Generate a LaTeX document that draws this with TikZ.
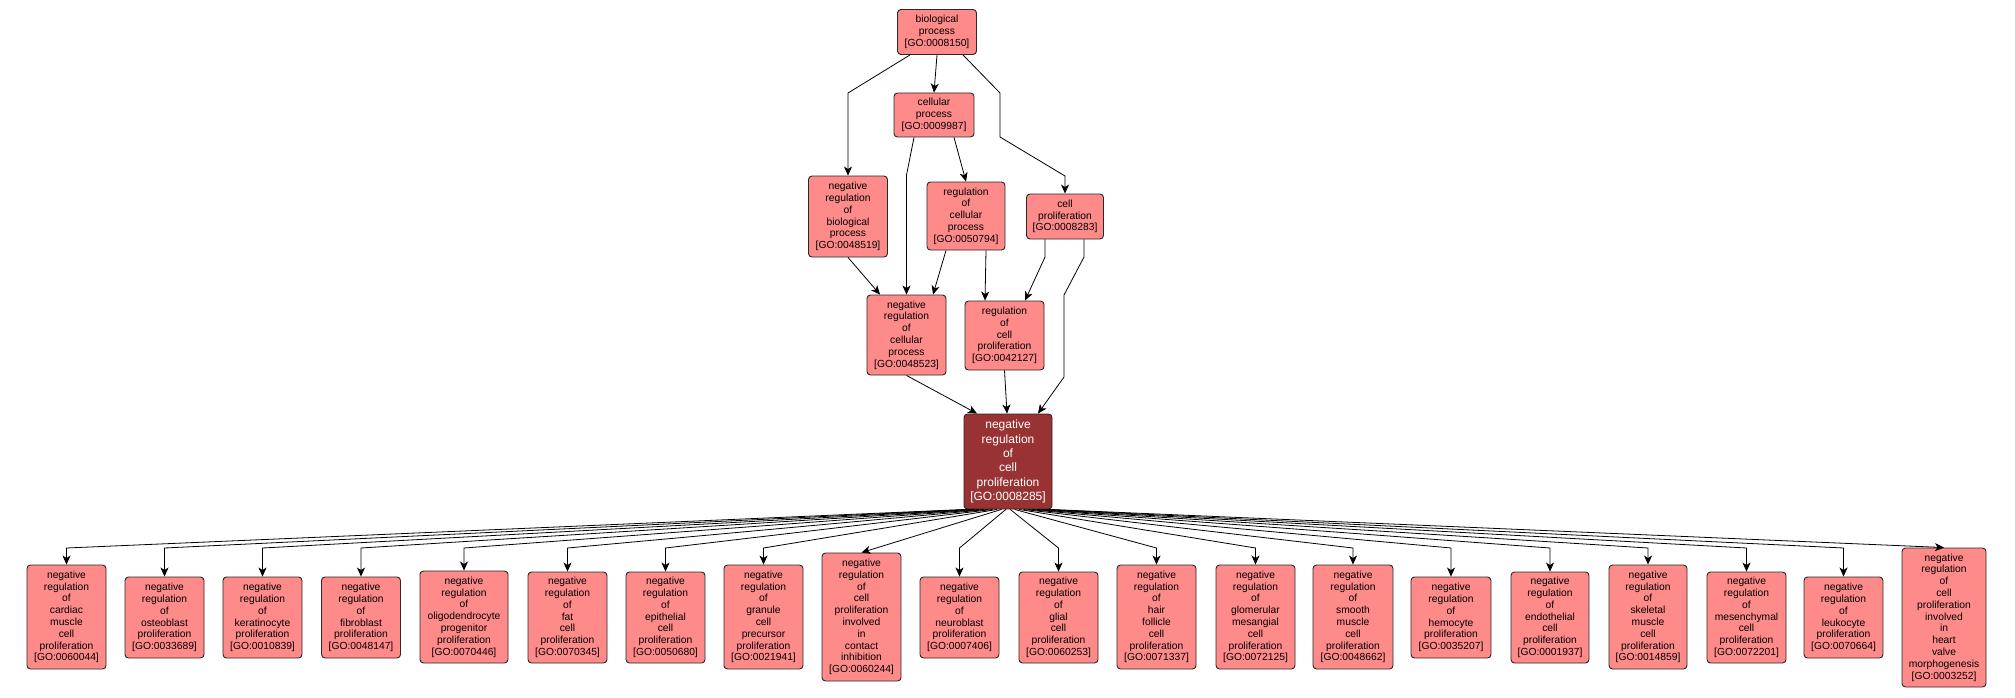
\documentclass[tikz,border=0pt]{standalone}
\usepackage{fontspec}
\newfontfamily\gofont{Liberation Sans}
\usetikzlibrary{arrows.meta,calc}
\definecolor{gopink}{RGB}{255,138,138}
\definecolor{godark}{RGB}{153,51,51}
\definecolor{goline}{RGB}{40,40,40}
\begin{document}
\begin{tikzpicture}[x=1pt,y=-1pt,
  gobox/.style={draw=goline, fill=gopink, line width=0.9pt, rounded corners=3.5pt,
    align=center, inner sep=0pt, minimum width=79pt,
    font={\gofont\fontsize{10.3}{11.8}\selectfont}},
  gomain/.style={gobox, fill=godark, text=white, minimum width=88pt, minimum height=95pt,
    font={\gofont\fontsize{12}{14.3}\selectfont}},
  edge/.style={draw=black, line width=0.8pt, -{Stealth[length=9pt,width=8pt,inset=2.5pt]}}]
\useasboundingbox (0,0) rectangle (2015,698);
\fill[white] (0,0) rectangle (2015,698);
% top part
\node[gobox, minimum height=45pt] (bio) at (937,32) {biological\\process\\{[GO:0008150]}};
\node[gobox, minimum width=80pt, minimum height=44pt] (cellular) at (934,115) {cellular\\process\\{[GO:0009987]}};
\node[gobox, minimum height=81pt] (negregbio) at (848,216.5) {negative\\regulation\\of\\biological\\process\\{[GO:0048519]}};
\node[gobox, minimum width=78pt, minimum height=68pt] (regcell) at (966,216) {regulation\\of\\cellular\\process\\{[GO:0050794]}};
\node[gobox, minimum width=77pt, minimum height=45pt] (cellprolif) at (1065,216.5) {cell\\proliferation\\{[GO:0008283]}};
\node[gobox, minimum height=80pt] (negregcell) at (906.5,335) {negative\\regulation\\of\\cellular\\process\\{[GO:0048523]}};
\node[gobox, minimum height=69pt] (regcellprolif) at (1004.5,335.5) {regulation\\of\\cell\\proliferation\\{[GO:0042127]}};
\node[gomain] (main) at (1008,461.5) {negative\\regulation\\of\\cell\\proliferation\\{[GO:0008285]}};
% bottom row
\node[gobox, minimum height=104pt] (cardiac) at (66.5,617) {negative\\regulation\\of\\cardiac\\muscle\\cell\\proliferation\\{[GO:0060044]}};
\node[gobox, minimum height=81pt] (osteo) at (164.5,617.5) {negative\\regulation\\of\\osteoblast\\proliferation\\{[GO:0033689]}};
\node[gobox, minimum height=81pt] (kerat) at (262.5,617.5) {negative\\regulation\\of\\keratinocyte\\proliferation\\{[GO:0010839]}};
\node[gobox, minimum height=81pt] (fibro) at (361,617.5) {negative\\regulation\\of\\fibroblast\\proliferation\\{[GO:0048147]}};
\node[gobox, minimum width=88pt, minimum height=92pt] (oligo) at (464,617) {negative\\regulation\\of\\oligodendrocyte\\progenitor\\proliferation\\{[GO:0070446]}};
\node[gobox, minimum height=91pt] (fat) at (567.5,617.5) {negative\\regulation\\of\\fat\\cell\\proliferation\\{[GO:0070345]}};
\node[gobox, minimum height=91pt] (epith) at (665.5,617.5) {negative\\regulation\\of\\epithelial\\cell\\proliferation\\{[GO:0050680]}};
\node[gobox, minimum height=104pt] (granule) at (763.5,617) {negative\\regulation\\of\\granule\\cell\\precursor\\proliferation\\{[GO:0021941]}};
\node[gobox, minimum height=128pt] (contact) at (861.5,617) {negative\\regulation\\of\\cell\\proliferation\\involved\\in\\contact\\inhibition\\{[GO:0060244]}};
\node[gobox, minimum height=81pt] (neuro) at (959.5,617.5) {negative\\regulation\\of\\neuroblast\\proliferation\\{[GO:0007406]}};
\node[gobox, minimum height=91pt] (glial) at (1058.5,617.5) {negative\\regulation\\of\\glial\\cell\\proliferation\\{[GO:0060253]}};
\node[gobox, minimum height=104pt] (hair) at (1156.5,617) {negative\\regulation\\of\\hair\\follicle\\cell\\proliferation\\{[GO:0071337]}};
\node[gobox, minimum height=104pt] (glom) at (1255.5,617) {negative\\regulation\\of\\glomerular\\mesangial\\cell\\proliferation\\{[GO:0072125]}};
\node[gobox, minimum width=80pt, minimum height=104pt] (smooth) at (1353,617) {negative\\regulation\\of\\smooth\\muscle\\cell\\proliferation\\{[GO:0048662]}};
\node[gobox, minimum width=80pt, minimum height=81pt] (hemo) at (1451,617.5) {negative\\regulation\\of\\hemocyte\\proliferation\\{[GO:0035207]}};
\node[gobox, minimum width=78pt, minimum height=91pt] (endo) at (1550,617.5) {negative\\regulation\\of\\endothelial\\cell\\proliferation\\{[GO:0001937]}};
\node[gobox, minimum width=78pt, minimum height=104pt] (skeletal) at (1648,617) {negative\\regulation\\of\\skeletal\\muscle\\cell\\proliferation\\{[GO:0014859]}};
\node[gobox, minimum height=91pt] (mesen) at (1746.5,617.5) {negative\\regulation\\of\\mesenchymal\\cell\\proliferation\\{[GO:0072201]}};
\node[gobox, minimum height=81pt] (leuko) at (1843.5,617.5) {negative\\regulation\\of\\leukocyte\\proliferation\\{[GO:0070664]}};
\node[gobox, minimum width=84pt, minimum height=139pt] (heart) at (1944,617.5) {negative\\regulation\\of\\cell\\proliferation\\involved\\in\\heart\\valve\\morphogenesis\\{[GO:0003252]}};
% top edges
\draw[edge] (bio.south) -- (cellular.north);
\draw[edge] ([xshift=-27pt]bio.south) -- (848,93) -- (negregbio.north);
\draw[edge] ([xshift=26pt]bio.south) -- (1000,93) -- (1000,137) -- (1065,176) -- (cellprolif.north);
\draw[edge] ([xshift=-20pt]cellular.south) -- (906.5,175) -- (negregcell.north);
\draw[edge] ([xshift=20pt]cellular.south) -- (regcell.north);
\draw[edge] (negregbio.south) -- ([xshift=-26.5pt]negregcell.north);
\draw[edge] ([xshift=-20pt]regcell.south) -- ([xshift=26.5pt]negregcell.north);
\draw[edge] ([xshift=20pt]regcell.south) -- ([xshift=-19.5pt]regcellprolif.north);
\draw[edge] ([xshift=-20pt]cellprolif.south) -- (1045,257) -- ([xshift=20.5pt]regcellprolif.north);
\draw[edge] ([xshift=19pt]cellprolif.south) -- (1084,257) -- (1064,295) -- (1064,377) -- ([xshift=30pt]main.north);
\draw[edge] (negregcell.south) -- ([xshift=-31pt]main.north);
\draw[edge] (regcellprolif.south) -- ([xshift=-1pt]main.north);
% bottom edges
\coordinate (row) at (0,548);
\foreach \tgt in {cardiac,osteo,kerat,fibro,oligo,fat,epith,granule,neuro,glial,hair,glom,smooth,hemo,endo,skeletal,mesen,leuko}{
  \draw[edge] let \p1=(\tgt.north), \p2=(main.south), \p3=(row) in
    ({\x2+0.045*(\x1-\x2)},\y2) -- (\x1,\y3) -- (\tgt.north);
}
\foreach \tgt in {contact,heart}{
  \draw[edge] let \p1=(\tgt.north), \p2=(main.south) in
    ({\x2+0.045*(\x1-\x2)},\y2) -- (\tgt.north);
}
\end{tikzpicture}
\end{document}
